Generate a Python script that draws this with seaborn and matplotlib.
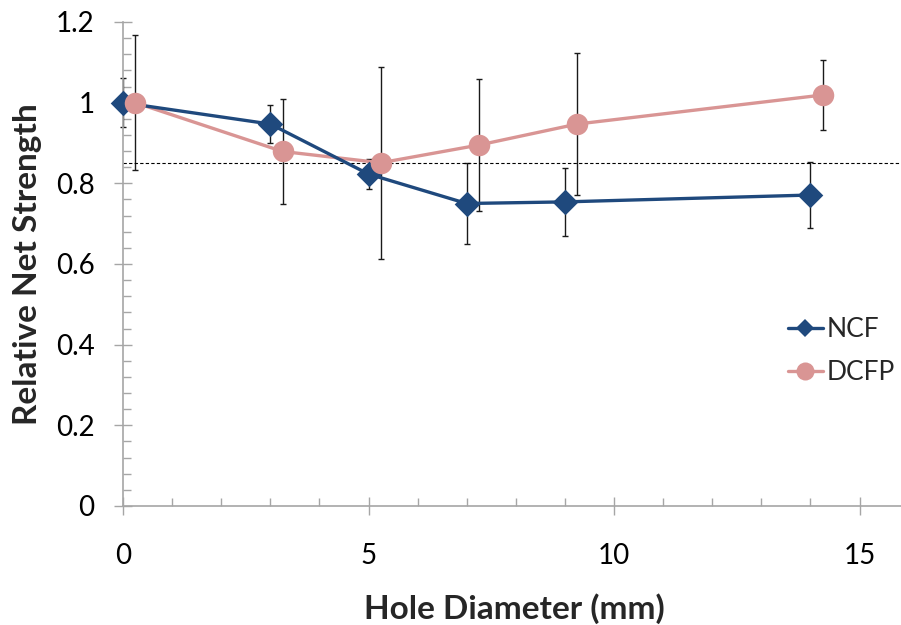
import matplotlib
matplotlib.use("Agg")
import matplotlib.pyplot as plt
from matplotlib.ticker import MultipleLocator, FuncFormatter
from matplotlib.lines import Line2D
import seaborn as sns
import pandas as pd

# ---- data ----
ncf_x = [0, 3, 5, 7, 9, 14]
ncf_y = [1.0, 0.947, 0.823, 0.750, 0.754, 0.771]
ncf_err = [0.06, 0.046, 0.037, 0.10, 0.084, 0.081]

dcfp_x = [0.25, 3.25, 5.25, 7.25, 9.25, 14.25]
dcfp_y = [1.0, 0.879, 0.851, 0.895, 0.947, 1.019]
dcfp_err = [0.167, 0.13, 0.238, 0.163, 0.175, 0.086]

reference_level = 0.85
series_names = ["NCF", "DCFP"]
x_label = "Hole Diameter (mm)"
y_label = "Relative Net Strength"

df = pd.concat([
    pd.DataFrame({"x": ncf_x, "y": ncf_y, "err": ncf_err, "series": "NCF"}),
    pd.DataFrame({"x": dcfp_x, "y": dcfp_y, "err": dcfp_err, "series": "DCFP"}),
], ignore_index=True)

sns.set_style("white")
plt.rcParams["font.family"] = ["Lato", "DejaVu Sans"]

BLUE = "#1F497D"
PINK = "#D99594"
AXC = "#A6A6A6"

fig = plt.figure(figsize=(9.01, 6.25), dpi=100)
ax = fig.add_axes([123 / 901, 119 / 625, 778 / 901, 484 / 625])

# error bars
for name in series_names:
    d = df[df.series == name]
    eb = ax.errorbar(d.x, d.y, yerr=d.err, fmt="none", ecolor="#1a1a1a",
                     elinewidth=1.0, capsize=2.5, capthick=1.0, zorder=2)
    for art in eb.get_children():
        art.set_clip_on(False)

# reference line
ax.axhline(reference_level, color="black", lw=0.8, ls=(0, (3, 2)), zorder=2.5)

# lines
sns.lineplot(data=df[df.series == "DCFP"], x="x", y="y", color=PINK, lw=2.4,
             ax=ax, zorder=3, legend=False)
sns.lineplot(data=df[df.series == "NCF"], x="x", y="y", color=BLUE, lw=2.4,
             ax=ax, zorder=3.5, legend=False)
# markers
sns.scatterplot(data=df[df.series == "NCF"], x="x", y="y", color=BLUE, marker="D",
                s=170, linewidth=0, ax=ax, zorder=4, legend=False, clip_on=False)
sns.scatterplot(data=df[df.series == "DCFP"], x="x", y="y", color=PINK, marker="o",
                s=240, linewidth=0, ax=ax, zorder=4.5, legend=False, clip_on=False)

ax.set_xlim(0, 778 / 49.1)
ax.set_ylim(0, 1.2)

for s in ["top", "right"]:
    ax.spines[s].set_visible(False)
for s in ["left", "bottom"]:
    ax.spines[s].set_color(AXC)
    ax.spines[s].set_linewidth(1.2)

ax.xaxis.set_major_locator(MultipleLocator(5))
ax.xaxis.set_minor_locator(MultipleLocator(1))
ax.yaxis.set_major_locator(MultipleLocator(0.2))
ax.yaxis.set_minor_locator(MultipleLocator(0.04))
ax.yaxis.set_major_formatter(FuncFormatter(lambda v, p: f"{v:.1f}".rstrip("0").rstrip(".") if v else "0"))

ax.tick_params(axis="both", which="both", bottom=True, left=True)
ax.tick_params(axis="both", which="major", direction="inout", length=13, width=1.0,
               color=AXC, labelsize=20, labelcolor="black")
ax.tick_params(axis="both", which="minor", direction="in", length=6, width=1.0, color=AXC)
ax.tick_params(axis="y", which="major", pad=14)
ax.tick_params(axis="x", which="major", pad=20)

ax.set_xlabel(x_label, fontsize=24, fontweight="bold")
ax.set_ylabel(y_label, fontsize=24, fontweight="bold")
ax.xaxis.set_label_coords(0.503, -0.18)
ax.yaxis.set_label_coords(-0.104, 0.5)

handles = [
    Line2D([], [], color=BLUE, lw=2.4, marker="D", markersize=9.5, markeredgewidth=0),
    Line2D([], [], color=PINK, lw=2.4, marker="o", markersize=13, markeredgewidth=0),
]
ax.legend(handles, series_names, loc="center left", bbox_to_anchor=(775 / 901, (625 - 351) / 625),
          bbox_transform=fig.transFigure, frameon=False, fontsize=19,
          handlelength=1.3, handletextpad=0.15, labelspacing=0.7, borderpad=0)

fig.savefig("out.png", dpi=100)
